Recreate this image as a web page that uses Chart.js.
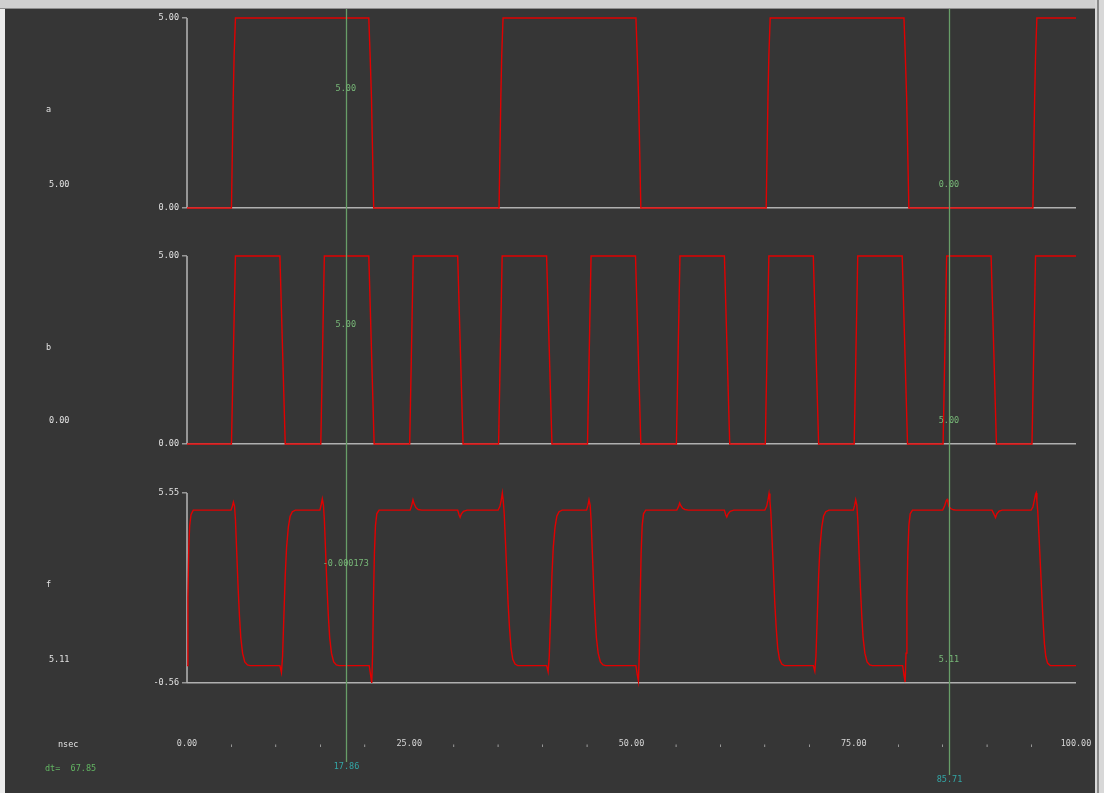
<!DOCTYPE html>
<html>
<head>
<meta charset="utf-8">
<title>Waveforms a, b, f</title>
<script src="https://cdn.jsdelivr.net/npm/chart.js@4.4.1/dist/chart.umd.min.js"></script>
<style>
  html, body { margin: 0; padding: 0; background: #363636; overflow: hidden; }
  #wrap { position: relative; width: 1104px; height: 793px; }
  #wave { position: absolute; left: 0; top: 0; }
  #topbar { position: absolute; left: 0; top: 0; width: 1104px; height: 8px; background: #d0d0d0; border-bottom: 1px solid #8e8e8e; }
  #leftedge { position: absolute; left: 0; top: 9px; width: 5px; height: 784px; background: #ececec; }
  #sbar { position: absolute; left: 1095px; top: 0; width: 9px; height: 793px; background: #d8d8d8; }
  #sbar-line { position: absolute; left: 1097px; top: 0; width: 2px; height: 793px; background: #8a8a8a; }
</style>
</head>
<body>
<div id="wrap">
  <canvas id="wave" width="1104" height="793"></canvas>
  <div id="topbar"></div>
  <div id="leftedge"></div>
  <div id="sbar"></div>
  <div id="sbar-line"></div>
</div>
<script>
// ---- signal data -------------------------------------------------------
const timeRange = [0, 100];
const timeUnit = 'nsec';
const timeTickValues = [0, 25, 50, 75, 100];
const timeTickLabels = ['0.00', '25.00', '50.00', '75.00', '100.00'];
const minorTickStep = 5;

const signalNames = ['a', 'b', 'f'];
const signalReadouts = ['5.00', '0.00', '5.11'];
const axisRanges = [[0, 5], [0, 5], [-0.56, 5.55]];
const axisTickLabels = [['0.00', '5.00'], ['0.00', '5.00'], ['-0.56', '5.55']];

const cursorTimes = [17.86, 85.71];
const cursorTimeLabels = ['17.86', '85.71'];
const cursorValueLabels = [['5.00', '0.00'], ['5.00', '5.00'], ['-0.000173', '5.11']];
const deltaLabel = 'dt=  67.85';

// [time (ns), volts]
const waveA = [
  [0, 0], [5.0, 0], [5.2, 2.9], [5.3, 4.0], [5.45, 5.0],
  [20.45, 5.0], [20.6, 4.0], [20.75, 2.9], [21.0, 0],
  [35.1, 0], [35.3, 2.9], [35.4, 4.0], [35.55, 5.0],
  [50.5, 5.0], [50.65, 4.0], [50.8, 2.9], [51.05, 0],
  [65.15, 0], [65.35, 2.9], [65.45, 4.0], [65.6, 5.0],
  [80.65, 5.0], [80.8, 4.0], [80.95, 2.9], [81.2, 0],
  [95.15, 0], [95.35, 2.9], [95.45, 4.0], [95.6, 5.0],
  [100, 5.0]
];

const waveB = [
  [0, 0], [5.0, 0], [5.45, 5], [10.45, 5], [11.05, 0],
  [15.05, 0], [15.45, 5], [20.45, 5], [21.05, 0],
  [25.05, 0], [25.45, 5], [30.45, 5], [31.05, 0],
  [35.05, 0], [35.45, 5], [40.45, 5], [41.05, 0],
  [45.05, 0], [45.45, 5], [50.45, 5], [51.05, 0],
  [55.05, 0], [55.45, 5], [60.45, 5], [61.05, 0],
  [65.05, 0], [65.45, 5], [70.45, 5], [71.05, 0],
  [75.05, 0], [75.45, 5], [80.45, 5], [81.05, 0],
  [85.05, 0], [85.45, 5], [90.45, 5], [91.05, 0],
  [95.05, 0], [95.45, 5], [100, 5]
];

const waveF = [
  [0, 0.0], [0.1, 2.2], [0.2, 3.8], [0.3, 4.5], [0.45, 4.85], [0.7, 5.0],
  [4.95, 5.0], [5.1, 5.12], [5.22, 5.26], [5.35, 5.12], [5.45, 4.7], [5.6, 3.6], [5.75, 2.5], [5.9, 1.6], [6.05, 0.9], [6.25, 0.4], [6.5, 0.12], [6.8, 0.02], [7.1, 0.0],
  [10.45, 0.0], [10.62, -0.22], [10.75, 0.3], [10.9, 1.6], [11.05, 2.9], [11.2, 3.8], [11.4, 4.45], [11.6, 4.8], [11.85, 4.95], [12.2, 5.0],
  [14.95, 5.0], [15.1, 5.18], [15.22, 5.36], [15.35, 5.15], [15.45, 4.7], [15.6, 3.6], [15.75, 2.5], [15.9, 1.6], [16.05, 0.9], [16.25, 0.4], [16.5, 0.12], [16.8, 0.02], [17.1, 0.0],
  [17.86, -0.000173],
  [20.5, 0.0], [20.65, -0.3], [20.78, -0.56], [20.88, 0.4], [20.98, 2.2], [21.08, 3.6], [21.2, 4.5], [21.35, 4.88], [21.6, 5.0],
  [25.1, 5.0], [25.3, 5.18], [25.42, 5.33], [25.55, 5.2], [25.75, 5.08], [26.0, 5.02], [26.4, 5.0],
  [30.45, 5.0], [30.6, 4.85], [30.72, 4.77], [30.85, 4.87], [31.1, 4.96], [31.5, 5.0],
  [35.0, 5.0], [35.2, 5.12], [35.35, 5.32], [35.47, 5.55], [35.57, 5.3], [35.68, 4.9], [35.82, 4.0], [35.97, 3.0], [36.12, 2.0], [36.28, 1.2], [36.45, 0.55], [36.65, 0.2], [36.9, 0.05], [37.2, 0.0],
  [40.45, 0.0], [40.62, -0.2], [40.75, 0.3], [40.9, 1.6], [41.05, 2.9], [41.2, 3.8], [41.4, 4.45], [41.6, 4.8], [41.85, 4.95], [42.2, 5.0],
  [44.95, 5.0], [45.1, 5.15], [45.22, 5.33], [45.35, 5.15], [45.45, 4.7], [45.6, 3.6], [45.75, 2.5], [45.9, 1.6], [46.05, 0.9], [46.25, 0.4], [46.5, 0.12], [46.8, 0.02], [47.1, 0.0],
  [50.5, 0.0], [50.65, -0.3], [50.78, -0.5], [50.88, 0.4], [50.98, 2.2], [51.08, 3.6], [51.2, 4.5], [51.35, 4.88], [51.6, 5.0],
  [55.1, 5.0], [55.3, 5.12], [55.42, 5.23], [55.55, 5.14], [55.75, 5.06], [56.0, 5.02], [56.4, 5.0],
  [60.45, 5.0], [60.6, 4.85], [60.72, 4.78], [60.85, 4.87], [61.1, 4.96], [61.5, 5.0],
  [65.0, 5.0], [65.2, 5.12], [65.35, 5.32], [65.47, 5.53], [65.57, 5.3], [65.68, 4.9], [65.82, 4.0], [65.97, 3.0], [66.12, 2.0], [66.28, 1.2], [66.45, 0.55], [66.65, 0.2], [66.9, 0.05], [67.2, 0.0],
  [70.45, 0.0], [70.62, -0.18], [70.75, 0.3], [70.9, 1.6], [71.05, 2.9], [71.2, 3.8], [71.4, 4.45], [71.6, 4.8], [71.85, 4.95], [72.2, 5.0],
  [74.95, 5.0], [75.1, 5.15], [75.22, 5.33], [75.35, 5.15], [75.45, 4.7], [75.6, 3.6], [75.75, 2.5], [75.9, 1.6], [76.05, 0.9], [76.25, 0.4], [76.5, 0.12], [76.8, 0.02], [77.1, 0.0],
  [80.5, 0.0], [80.65, -0.3], [80.78, -0.53], [80.88, 0.4], [80.98, 2.2], [81.08, 3.6], [81.2, 4.5], [81.35, 4.88], [81.6, 5.0],
  [85.0, 5.0], [85.2, 5.12], [85.4, 5.3], [85.5, 5.34], [85.6, 5.25], [85.71, 5.11], [85.9, 5.05], [86.2, 5.01], [86.5, 5.0],
  [90.55, 5.0], [90.8, 4.85], [90.95, 4.76], [91.1, 4.88], [91.35, 4.97], [91.7, 5.0],
  [94.95, 5.0], [95.15, 5.1], [95.3, 5.3], [95.45, 5.5], [95.52, 5.55], [95.6, 5.3], [95.7, 4.95], [95.85, 4.1], [96.0, 3.2], [96.15, 2.3], [96.3, 1.4], [96.45, 0.7], [96.6, 0.3], [96.8, 0.08], [97.1, 0.0],
  [100, 0.0]
];

const waves = [waveA, waveB, waveF];

// ---- layout and styling ------------------------------------------------
const FONT = { family: '"DejaVu Sans Mono", monospace', size: 8.5 };
const FONT_CSS = '8.5px "DejaVu Sans Mono", monospace';
const TRACE_RED = 'rgb(226,0,0)';
const AXIS_GRAY = '#b0b0b0';
const TEXT_LIGHT = '#e2e2e2';
const CURSOR_GREEN = 'rgb(104,158,104)';
const CURSOR_TEXT = '#78b878';
const TIME_TEXT = '#33a6a6';
const DELTA_TEXT = '#62b462';

const PANEL_H = 237.5;          // height of each stacked panel band
const SPAN = [190, 188, 190];   // pixel span of each value range
const TOP_PAD = [9, 9.5, 9];    // space above each range top
const panelIds = ['ya', 'yb', 'yf'];

function panelBounds(i) {
  const [lo, hi] = axisRanges[i];
  const k = SPAN[i] / (hi - lo);
  return { min: lo - (PANEL_H - TOP_PAD[i] - SPAN[i]) / k, max: hi + TOP_PAD[i] / k };
}

function panelScale(i) {
  const b = panelBounds(i);
  return {
    type: 'linear',
    position: 'left',
    stack: 'signals',
    stackWeight: 1,
    weight: 3 - i,
    bounds: 'data',
    min: b.min,
    max: b.max,
    afterBuildTicks: s => { s.ticks = axisRanges[i].map(v => ({ value: v })); },
    afterFit: s => { s.width = 187; },
    ticks: {
      color: TEXT_LIGHT,
      font: FONT,
      padding: 3,
      autoSkip: false,
      callback: (v, idx) => axisTickLabels[i][idx]
    },
    grid: {
      drawOnChartArea: true,
      drawTicks: true,
      tickLength: 5,
      tickWidth: 1.2,
      tickColor: AXIS_GRAY,
      lineWidth: 1.6,
      color: ctx => (ctx.index === 0 ? AXIS_GRAY : 'rgba(0,0,0,0)')
    },
    border: { display: false }
  };
}

// axis spines, cursors and the text around the plots
const waveDecor = {
  id: 'waveDecor',
  beforeDatasetsDraw(chart) {
    const ctx = chart.ctx;
    const xs = chart.scales.x;
    const px = xs.getPixelForValue(timeRange[0]);
    ctx.save();
    ctx.strokeStyle = AXIS_GRAY;
    ctx.lineWidth = 1.6;
    panelIds.forEach((id, i) => {
      const s = chart.scales[id];
      ctx.beginPath();
      ctx.moveTo(px, s.getPixelForValue(axisRanges[i][1]));
      ctx.lineTo(px, s.getPixelForValue(axisRanges[i][0]));
      ctx.stroke();
    });
    ctx.restore();
  },
  afterDatasetsDraw(chart) {
    const ctx = chart.ctx;
    const xs = chart.scales.x;
    const area = chart.chartArea;
    const lineEnds = [area.bottom + 40.5, area.bottom + 53.5];
    ctx.save();
    ctx.font = FONT_CSS;
    ctx.textBaseline = 'middle';

    // cursor lines
    cursorTimes.forEach((t, c) => {
      const cx = Math.round(xs.getPixelForValue(t)) + 0.5;
      ctx.strokeStyle = CURSOR_GREEN;
      ctx.lineWidth = 1.3;
      ctx.beginPath();
      ctx.moveTo(cx, area.top);
      ctx.lineTo(cx, lineEnds[c]);
      ctx.stroke();
      ctx.fillStyle = TIME_TEXT;
      ctx.textAlign = 'center';
      ctx.fillText(cursorTimeLabels[c], cx, lineEnds[c] + 4.5);
    });

    // per-panel readouts
    panelIds.forEach((id, i) => {
      const s = chart.scales[id];
      const topPx = s.getPixelForValue(axisRanges[i][1]);
      const basePx = s.getPixelForValue(axisRanges[i][0]);
      ctx.textAlign = 'left';
      ctx.fillStyle = TEXT_LIGHT;
      ctx.fillText(signalNames[i], 46, topPx + 92);
      ctx.fillText(signalReadouts[i], 49, basePx - 23);
      ctx.fillStyle = CURSOR_TEXT;
      ctx.textAlign = 'center';
      const offsets = [119, 23];
      cursorTimes.forEach((t, c) => {
        ctx.fillText(cursorValueLabels[i][c], xs.getPixelForValue(t), basePx - offsets[c]);
      });
    });

    // time unit and cursor delta
    ctx.textAlign = 'left';
    ctx.fillStyle = TEXT_LIGHT;
    ctx.fillText(timeUnit, 58, area.bottom + 23.5);
    ctx.fillStyle = DELTA_TEXT;
    ctx.fillText(deltaLabel, 45, area.bottom + 47.5);
    ctx.restore();
  }
};

const scales = {
  x: {
    type: 'linear',
    position: 'bottom',
    min: timeRange[0],
    max: timeRange[1],
    afterBuildTicks: s => {
      const t = [];
      for (let v = timeRange[0]; v <= timeRange[1]; v += minorTickStep) t.push({ value: v });
      s.ticks = t;
    },
    afterFit: s => { s.height = 40; },
    ticks: {
      color: '#d6d6d6',
      font: FONT,
      padding: 3,
      autoSkip: false,
      maxRotation: 0,
      minRotation: 0,
      callback: v => {
        const k = timeTickValues.indexOf(v);
        return k >= 0 ? timeTickLabels[k] : '\u02cc';
      }
    },
    grid: {
      display: true,
      drawOnChartArea: false,
      drawTicks: true,
      tickLength: 14,
      color: 'rgba(0,0,0,0)',
      tickColor: 'rgba(0,0,0,0)'
    },
    border: { display: false }
  }
};
panelIds.forEach((id, i) => { scales[id] = panelScale(i); });

new Chart(document.getElementById('wave'), {
  type: 'scatter',
  data: {
    datasets: waves.map((w, i) => ({
      label: signalNames[i],
      data: w,
      yAxisID: panelIds[i],
      xAxisID: 'x',
      showLine: true,
      borderColor: TRACE_RED,
      backgroundColor: TRACE_RED,
      borderWidth: 1.4,
      pointRadius: 0,
      pointHoverRadius: 0,
      tension: 0,
      fill: false
    }))
  },
  options: {
    responsive: false,
    animation: false,
    devicePixelRatio: 1,
    layout: { padding: { top: 9, left: 0, right: 28, bottom: 31.5 } },
    plugins: { legend: { display: false }, tooltip: { enabled: false } },
    events: [],
    scales
  },
  plugins: [waveDecor]
});
</script>
</body>
</html>
